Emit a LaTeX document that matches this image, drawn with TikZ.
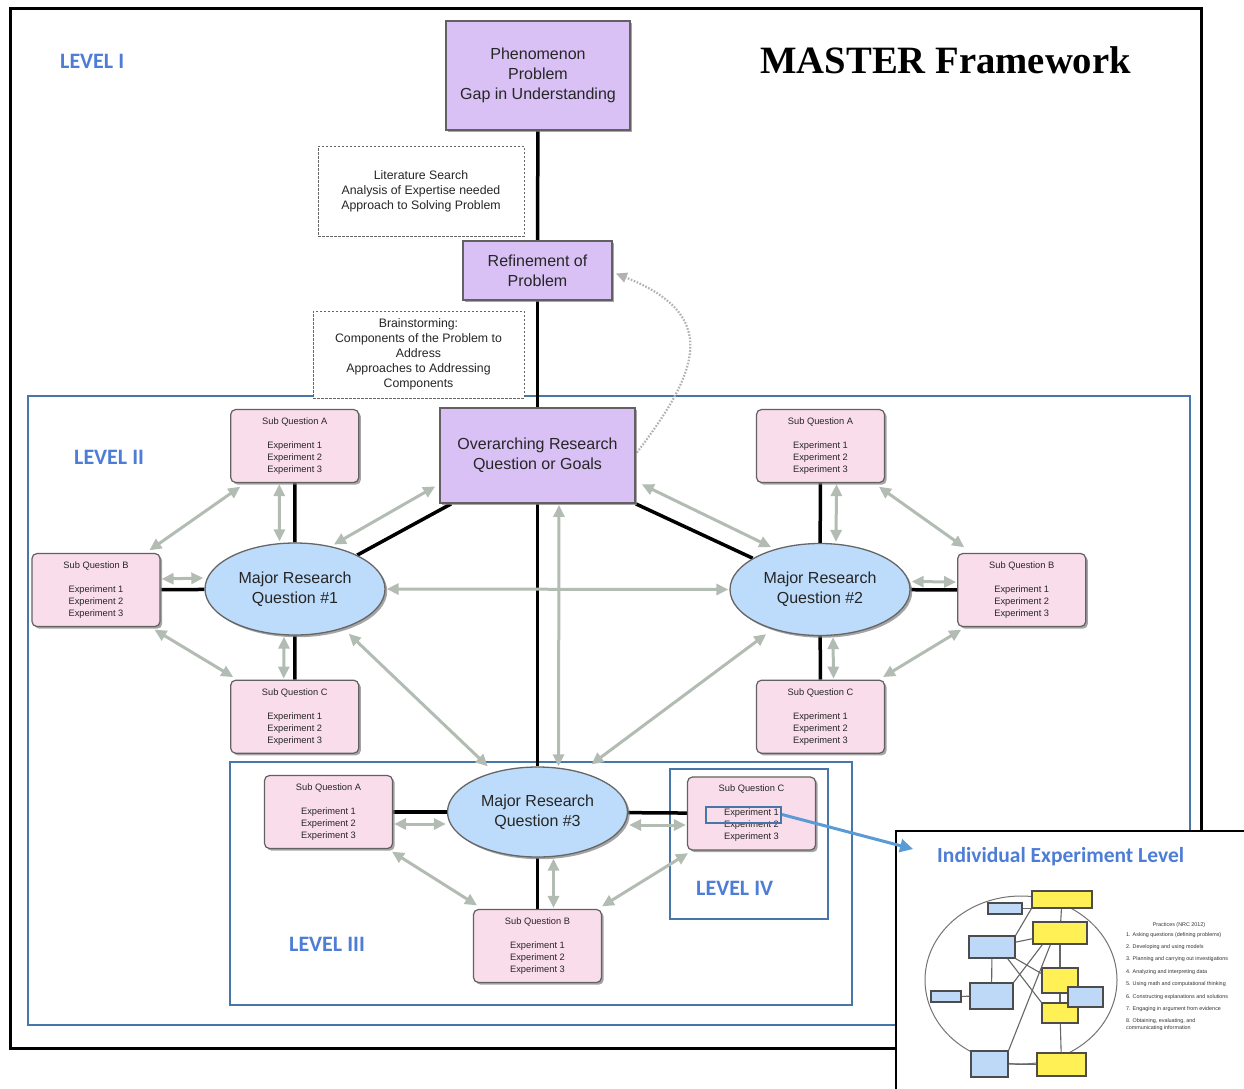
\documentclass[tikz,border=0pt]{standalone}
\usepackage{fontspec}
\setmainfont{Liberation Sans}
\newfontfamily\carl{Carlito}
\newfontfamily\serifb{Liberation Serif}
\usetikzlibrary{arrows.meta,shapes.geometric,shadows,calc}
\definecolor{lav}{HTML}{D9C0F5}
\definecolor{lblue}{HTML}{BDDCFB}
\definecolor{pinkc}{HTML}{FADDEB}
\definecolor{garr}{HTML}{B3BCB3}
\definecolor{frameblue}{HTML}{4677A8}
\definecolor{lvltext}{HTML}{4D7DD6}
\definecolor{arrblue}{HTML}{5B9BD5}
\definecolor{yel}{HTML}{FFF055}
\definecolor{iblue}{HTML}{BDD9F7}
\pgfdeclarelayer{frames}
\pgfdeclarelayer{bg}
\pgfsetlayers{frames,bg,main}
\begin{document}
\begin{tikzpicture}[x=1pt,y=-1pt,
  shad/.style={drop shadow={shadow xshift=2.2pt,shadow yshift=-2.2pt,fill=black!50,opacity=0.7}},
  purp/.style={rectangle,draw=black!62,line width=1.8pt,fill=lav,shad,align=center,inner sep=0pt,text=black!85,font=\fontsize{16}{20}\selectfont},
  dbox/.style={rectangle,draw=black!60,line width=0.9pt,dash pattern=on 2.5pt off 1.5pt,fill=white,align=center,inner sep=0pt,text=black!85,font=\fontsize{12.3}{15}\selectfont},
  mrq/.style={ellipse,draw=black!60,line width=1.3pt,fill=lblue,shad,minimum width=180pt,minimum height=92pt,inner sep=0pt,align=center,text=black!85,font=\fontsize{16}{20}\selectfont},
  subq/.style={rectangle,rounded corners=5pt,draw=black!62,line width=1.2pt,fill=pinkc,shad,minimum width=128pt,minimum height=73pt,inner sep=0pt,align=center,text=black!85,font=\fontsize{9.3}{12}\selectfont},
  blk/.style={line width=3.5pt,black},
  garrow/.style={line width=3pt,draw=garr,{Triangle[length=12pt,width=11pt]}-{Triangle[length=12pt,width=11pt]},shorten <=1pt,shorten >=1pt},
  levelbox/.style={draw=frameblue,line width=2.5pt},
  lvl/.style={font=\carl\bfseries\fontsize{22}{26}\selectfont,text=lvltext,anchor=base west,inner sep=0pt},
  iy/.style={rectangle,draw=black!70,line width=1.2pt,fill=yel,inner sep=0pt},
  ib/.style={rectangle,draw=black!70,line width=1.2pt,fill=iblue,inner sep=0pt},
  il/.style={draw=black!60,line width=1.1pt}
]
\useasboundingbox (0,0) rectangle (1244,1088);

% frames
\begin{pgfonlayer}{frames}
\fill[white] (0,0) rectangle (1244,1088);
\draw[line width=3pt] (10,8) rectangle (1201,1048);
\draw[levelbox] (28,396) rectangle (1190,1025);
\draw[levelbox] (230,762) rectangle (852,1005);
\draw[levelbox] (670,769) rectangle (828,919);
\end{pgfonlayer}

% titles
\node[lvl] (L1) at (60,68) {LEVEL I};
\node[lvl] (L2) at (74,464) {LEVEL II};
\node[lvl] (L3) at (289,951) {LEVEL III};
\node[lvl] (L4) at (696,895) {LEVEL IV};
\node[font=\serifb\bfseries\fontsize{38.7}{40}\selectfont,anchor=base west,inner sep=0pt] (T) at (760,73) {MASTER Framework};

% top chain
\node[purp,minimum width=184pt,minimum height=109pt] (PH) at (538,75.5) {Phenomenon\\Problem\\Gap in Understanding};
\node[dbox,minimum width=206pt,minimum height=90pt] (DB1) at (421,191) {Literature Search\\Analysis of Expertise needed\\Approach to Solving Problem};
\node[purp,minimum width=149pt,minimum height=59pt] (RF) at (537.5,270.5) {Refinement of\\Problem};
\node[dbox,minimum width=211pt,minimum height=87pt] (DB2) at (418.5,354.5) {Brainstorming:\\Components of the Problem to\\Address\\Approaches to Addressing\\Components};
\node[purp,minimum width=195pt,minimum height=95pt] (OV) at (537.5,455.5) {Overarching Research\\Question or Goals};

% major questions
\node[mrq] (M1) at (295,589) {Major Research\\Question \#1};
\node[mrq] (M2) at (820,589.5) {Major Research\\Question \#2};
\node[mrq,minimum height=90pt] (M3) at (537.5,812) {Major Research\\Question \#3};

% sub questions
\node[subq] (LA) at (294.7,446) {Sub Question A\\[12pt]Experiment 1\\Experiment 2\\Experiment 3};
\node[subq] (LB) at (96,590) {Sub Question B\\[12pt]Experiment 1\\Experiment 2\\Experiment 3};
\node[subq] (LC) at (294.7,716.7) {Sub Question C\\[12pt]Experiment 1\\Experiment 2\\Experiment 3};
\node[subq] (RA) at (820.5,446) {Sub Question A\\[12pt]Experiment 1\\Experiment 2\\Experiment 3};
\node[subq] (RB) at (1021.7,590) {Sub Question B\\[12pt]Experiment 1\\Experiment 2\\Experiment 3};
\node[subq] (RC) at (820.5,716.7) {Sub Question C\\[12pt]Experiment 1\\Experiment 2\\Experiment 3};
\node[subq] (TA) at (328.5,812) {Sub Question A\\[12pt]Experiment 1\\Experiment 2\\Experiment 3};
\node[subq] (TB) at (537.5,946) {Sub Question B\\[12pt]Experiment 1\\Experiment 2\\Experiment 3};
\node[subq] (TC) at (751.5,813.5) {Sub Question C\\[12pt]Experiment 1\\Experiment 2\\Experiment 3};
\node[draw=frameblue,line width=2pt,minimum width=75pt,minimum height=16pt,inner sep=0pt] (hl) at (743.5,814.5) {};

% connectors
\begin{pgfonlayer}{bg}
\draw[blk] (PH) -- (RF);
\draw[blk] (RF) -- (OV);
\draw[blk] (OV) -- (M3);
\draw[blk] ($(OV.south west)+(12,0)$) -- (M1);
\draw[blk] (OV.south east) -- (M2);
\draw[blk] (LA) -- (M1);
\draw[blk] (LB) -- (M1);
\draw[blk] (LC) -- (M1);
\draw[blk] (RA) -- (M2);
\draw[blk] (RB) -- (M2);
\draw[blk] (RC) -- (M2);
\draw[blk] (TA) -- (M3);
\draw[blk] (TB) -- (M3);
\draw[blk] (TC) -- (M3);

% gray double arrows
\draw[garrow] ([xshift=-15.5pt]LA.south) -- ([xshift=-15.5pt]M1.north);
\draw[garrow] ([yshift=11pt]LB.east) -- ([yshift=11pt]M1.west);
\draw[garrow] ([xshift=-11pt]LC.north) -- ([xshift=-11pt]M1.south);
\draw[garrow] ($(LA.south west)+(11,3)$) -- ($(LB.north east)+(-12,-2)$);
\draw[garrow] ($(LB.south east)+(-7,2)$) -- ($(LC.north west)+(4,-2)$);
\draw[garrow] ($(OV.south west)+(-3,-18)$) -- ($(M1)+(38,-44)$);
\draw[garrow] (M1.east) -- (M2.west);
\draw[garrow] ([xshift=21.5pt]OV.south) -- ($(M3.north)+(21,1)$);
\draw[garrow] ($(M1)+(53,44)$) -- ($(M3)+(-49,-45)$);
\draw[garrow] ($(M2)+(-53,44)$) -- ($(M3)+(53,-47)$);
\draw[garrow] ($(OV.south east)+(5,-20)$) -- ($(M2)+(-48,-42)$);
\draw[garrow] ([xshift=16pt]RA.south) -- ([xshift=16pt]M2.north);
\draw[garrow] ($(RA.south east)+(-7,3)$) -- ($(RB.north west)+(8,-5)$);
\draw[garrow] ([yshift=8pt]RB.west) -- ([yshift=8pt]M2.east);
\draw[garrow] ([xshift=13pt]RC.north) -- ([xshift=13pt]M2.south);
\draw[garrow] ($(RC.north east)+(-3,-2)$) -- ($(RB.south west)+(5,2)$);
\draw[garrow] ([yshift=-12pt]TA.east) -- ([yshift=-12pt]M3.west);
\draw[garrow] ([yshift=-11.5pt]TC.west) -- ([yshift=-13pt]M3.east);
\draw[garrow] ([xshift=16pt]M3.south) -- ([xshift=16pt]TB.north);
\draw[garrow] ($(TA.south east)+(-2,2)$) -- ($(TB.north west)+(5,-3)$);
\draw[garrow] ($(TC.south west)+(2,2)$) -- ($(TB.north east)+(-1,-2)$);

% dotted feedback arrow
\draw[draw=black!30,line width=2.2pt,dash pattern=on 1.6pt off 1.6pt,-{Triangle[length=11pt,width=10pt]}]
  ($(OV.east)+(1,-3)$) .. controls (700,370) and (720,315) .. ($(RF.east)+(3,3)$);
\end{pgfonlayer}

% inset
\fill[white,draw=black,line width=2pt] (896,831) rectangle (1262,1100);
\node[font=\carl\bfseries\fontsize{21.5}{24}\selectfont,text=lvltext,anchor=base west,inner sep=0pt] (IT) at (937,862) {Individual Experiment Level};
\draw[draw=black!55,line width=1pt] (1021,980) ellipse [x radius=96, y radius=84];
\node[iy,minimum width=60pt,minimum height=17pt] (Y1) at (1062,899.5) {};
\node[ib,minimum width=34pt,minimum height=11pt] (B1) at (1005,908.5) {};
\node[iy,minimum width=54pt,minimum height=22pt] (Y2) at (1060,933) {};
\node[ib,minimum width=46pt,minimum height=22pt] (B2) at (992,947) {};
\node[iy,minimum width=36pt,minimum height=25pt] (Y3) at (1060,980.5) {};
\node[iy,minimum width=36pt,minimum height=20pt] (Y4) at (1060,1013) {};
\node[ib,minimum width=35pt,minimum height=20pt] (B3) at (1085.5,997) {};
\node[ib,minimum width=43pt,minimum height=26pt] (B4) at (991.5,996) {};
\node[ib,minimum width=30pt,minimum height=11pt] (B5) at (946,996.5) {};
\node[ib,minimum width=37pt,minimum height=26pt] (B6) at (989.5,1064) {};
\node[iy,minimum width=49pt,minimum height=23pt] (Y5) at (1061.5,1064.5) {};
\draw[il] (B1.east) -- (B1.east -| Y1.west);
\draw[il] (Y1) -- (Y2);
\draw[il] (Y2) -- (Y3);
\draw[il] (Y3) -- (Y4);
\draw[il] (Y4) -- (Y5);
\draw[il] (B2.north east) -- (Y1.south west);
\draw[il] (B2) -- (Y2);
\draw[il] (B2) -- (B4);
\draw[il] (B4) -- (B5);
\draw[il] (B2.south east) -- ($(Y3.west)+(0,-7)$);
\draw[il] ($(B2.south east)+(-8,0)$) -- (Y4.north west);
\draw[il] (B4.north east) -- ($(Y2.south west)+(10,0)$);
\draw[il] (B6.north east) -- ($(Y2.south west)+(18,0)$);
\draw[il] (B6) -- (Y5);
\node[font=\fontsize{5.4}{6}\selectfont,text=black!80,inner sep=0pt] (PT) at (1179,925) {Practices (NRC 2012)};
\node[font=\fontsize{5.4}{12.4}\selectfont,text=black!80,inner sep=0pt,align=left,anchor=north west] (PL) at (1126,932) {1. Asking questions (defining problems)\\2. Developing and using models\\3. Planning and carrying out investigations\\4. Analyzing and interpreting data\\5. Using math and computational thinking\\6. Constructing explanations and solutions\\7. Engaging in argument from evidence\\8. Obtaining, evaluating, and\\[-6.2pt]communicating information};

% blue arrow to inset
\coordinate (tipA) at (913,849);
\draw[draw=arrblue,line width=3pt,-{Triangle[length=13pt,width=13pt]}] (hl.east) -- (tipA);
\end{tikzpicture}
\end{document}
